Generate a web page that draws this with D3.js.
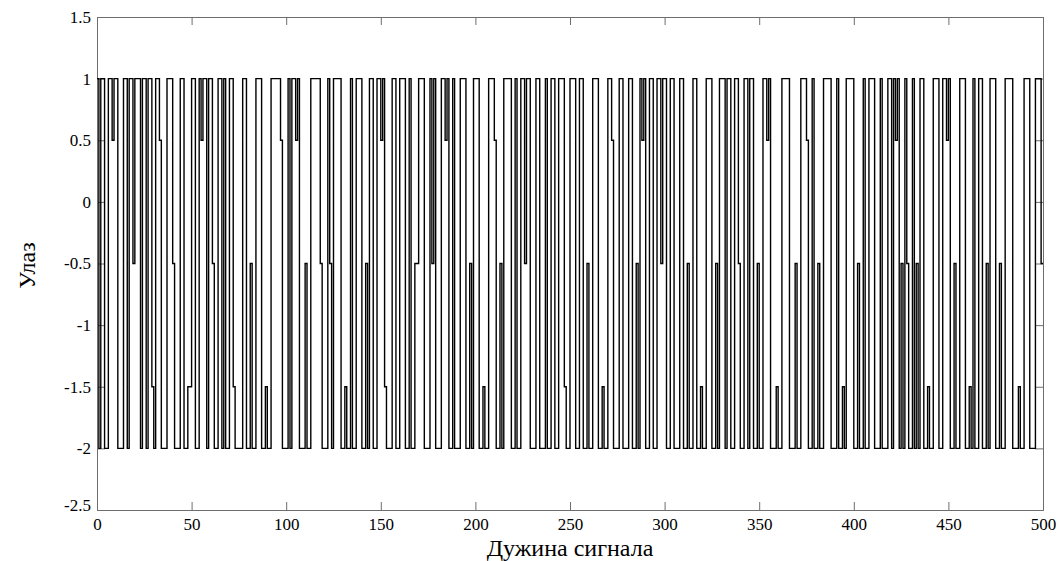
<!DOCTYPE html>
<html>
<head>
<meta charset="utf-8">
<script src="https://cdn.jsdelivr.net/npm/d3@7"></script>
<style>
  body { margin: 0; background: #fff; }
  svg text { font-family: "Times New Roman", "Liberation Serif", Tinos, "DejaVu Serif", serif; fill: #000; }
</style>
</head>
<body>
<div id="chart-area"></div>
<script>
// Input signal (stairs): [sample index where level changes, new level]
var steps = [
    [0,1],[1,-2],[2,1],[4,-2],[6,1],[8,0.5],[9,1],[11,-2],[14,1],[16,-2],[17,1],[19,-0.5],[20,1],[23,-2],
    [24,1],[26,-2],[27,1],[29,-1.5],[30,-2],[31,1],[33,0.5],[34,-2],[37,1],[40,-0.5],[41,-2],[44,1],[46,-2],
    [48,-1.5],[50,1],[52,-2],[54,1],[55,0.5],[56,1],[58,-2],[59,1],[61,-0.5],[62,-2],[64,1],[66,-2],[67,1],
    [68,-2],[70,1],[72,-1.5],[73,-2],[77,1],[79,-2],[81,-0.5],[82,-2],
    [84,1],[87,-2],[89,-1.5],[90,-2],[92,1],[97,0.5],[98,-2],[101,1],[102,-2],[103,1],[105,0.5],[106,1],
    [107,-2],[110,-0.5],[111,-2],[113,1],[118,-0.5],[119,-2],[122,1],[123,-0.5],[124,-2],[125,1],[129,-2],
    [131,-1.5],[132,-2],[134,1],[135,-2],[137,1],[140,-2],[142,-0.5],[143,-2],[144,1],[146,-2],[148,1],
    [150,0.5],[151,1],[152,-1.5],[153,-2],[156,1],[158,-2],[160,1],[163,-2],[165,1],[166,-2],[168,-0.5],
    [170,1],[173,-2],[176,1],[177,-0.5],[178,1],[179,-2],[182,1],[184,0.5],[185,1],[186,-2],[188,1],[189,-2],
    [192,1],[195,-2],[197,-0.5],[198,-2],[199,1],[202,-2],[204,-1.5],[205,-2],[207,1],[210,0.5],[211,-2],
    [213,-0.5],[214,-2],[215,1],[219,-2],[221,1],[222,-2],[224,1],[226,-0.5],[227,1],[229,-2],[232,1],
    [234,-2],[237,1],[238,-2],[240,1],[242,-2],[244,1],[247,-1.5],[248,-2],
    [250,1],[253,-2],[255,1],[257,-2],[259,-0.5],[260,-2],[262,1],[265,-2],[267,-1.5],[268,-2],[270,1],
    [272,0.5],[273,-2],[276,1],[278,-2],[281,1],[283,-2],[285,-0.5],[286,-2],[287,1],[288,0.5],[289,1],
    [290,-2],[292,1],[294,-2],[296,1],[298,-0.5],[299,1],[301,-2],[303,1],[305,-2],[308,1],[310,-2],
    [312,-0.5],[313,-2],[315,1],[317,-2],[319,-1.5],[320,-2],[322,1],[325,-2],[327,-0.5],[328,-2],[329,1],
    [332,-2],[333,1],[335,-2],[337,1],[339,-0.5],[340,-2],[342,1],[344,-2],[345,1],[347,-2],[349,-0.5],
    [350,-2],[352,1],[354,0.5],[355,1],[356,-2],[359,-1.5],[360,-2],[362,1],[366,-2],[369,-0.5],[370,-2],
    [372,1],[375,0.5],[376,-2],[378,1],[379,-2],[381,-0.5],[382,-2],[384,1],[388,-2],[391,1],[392,-2],
    [394,-1.5],[395,-2],[396,1],[400,-2],[402,-0.5],[403,-2],[405,1],[406,-2],[408,1],[411,-2],[414,1],
    [415,-2],[418,1],[420,-2],[421,1],[422,0.5],[423,1],[424,-2],[425,-0.5],[426,-2],[427,1],[428,-0.5],
    [429,-2],[431,1],[432,-2],[433,-0.5],[434,-2],[435,1],[437,-2],[439,-1.5],[440,-2],[442,1],[445,-2],
    [447,1],[449,0.5],[450,1],[451,-2],[453,-0.5],[454,-2],[456,1],[459,-2],[461,-1.5],[462,-2],[463,1],
    [464,-2],[466,1],[468,-2],[470,-0.5],[471,-2],[472,1],[475,-2],[477,-0.5],[478,-2],[480,1],[484,-2],
    [487,-1.5],[488,-2],[490,1],[493,-2],[496,1],[499,-0.5],[500,-0.5]
];
var sampleIdx = steps.map(function(d){ return d[0]; });
var level = steps.map(function(d){ return d[1]; });

var xTicks = [0, 50, 100, 150, 200, 250, 300, 350, 400, 450, 500];
var yTicks = [1.5, 1, 0.5, 0, -0.5, -1, -1.5, -2, -2.5];

var margin = { left: 97, right: 16, top: 17, bottom: 51 },
    width = 1059 - margin.left - margin.right,
    height = 561 - margin.top - margin.bottom;

var svg = d3.select("#chart-area")
    .append("svg")
    .attr("width", 1059)
    .attr("height", 561);
svg.append("rect")
    .attr("width", 1059).attr("height", 561)
    .attr("fill", "#fff");

var g = svg.append("g")
    .attr("transform", "translate(" + margin.left + ", " + margin.top + ")");

// Scales
var x = d3.scaleLinear().domain([0, 500]).range([0, width]);
var y = d3.scaleLinear().domain([-2.5, 1.5]).range([height, 0]);

var fmt = function(d){ return String(d); };

// Axes, ticks pointing inward on all four sides
var tickLen = 8;
g.append("g")
    .attr("class", "x axis")
    .attr("transform", "translate(0," + height + ")")
    .call(d3.axisBottom(x).tickValues(xTicks).tickSize(-tickLen).tickPadding(8).tickFormat(fmt));
g.append("g")
    .attr("class", "x axis top")
    .call(d3.axisTop(x).tickValues(xTicks).tickSize(-tickLen).tickFormat(""));
g.append("g")
    .attr("class", "y axis")
    .call(d3.axisLeft(y).tickValues(yTicks).tickSize(-tickLen).tickPadding(6).tickFormat(fmt));
g.append("g")
    .attr("class", "y axis right")
    .attr("transform", "translate(" + width + ",0)")
    .call(d3.axisRight(y).tickValues(yTicks).tickSize(-tickLen).tickFormat(""));

g.selectAll(".axis").attr("font-family", null);
g.selectAll(".axis .domain").attr("stroke", "#6e6e6e").attr("stroke-width", 1);
g.selectAll(".axis .tick line").attr("stroke", "#6e6e6e");
g.selectAll(".axis text")
    .attr("font-size", "17px")
    .attr("fill", "#000");
g.selectAll(".y.axis .tick text")
    .filter(function(d){ return d === -2.5; })
    .attr("dy", "0.05em");

// Signal
var pts = sampleIdx.map(function(d, i){ return { n: d, v: level[i] }; });
var line = d3.line()
    .curve(d3.curveStepAfter)
    .x(function(d){ return x(d.n); })
    .y(function(d){ return y(d.v); });

g.append("path")
    .attr("class", "line")
    .attr("fill", "none")
    .attr("stroke", "#000")
    .attr("stroke-width", 1.4)
    .attr("d", line(pts));

// Labels
g.append("text")
    .attr("x", width / 2)
    .attr("y", height + 46)
    .attr("font-size", "24px")
    .attr("text-anchor", "middle")
    .text("Дужина сигнала");

g.append("text")
    .attr("transform", "rotate(-90)")
    .attr("x", -(height / 2) - 2)
    .attr("y", -62)
    .attr("font-size", "24px")
    .attr("text-anchor", "middle")
    .text("Улаз");
</script>
</body>
</html>
